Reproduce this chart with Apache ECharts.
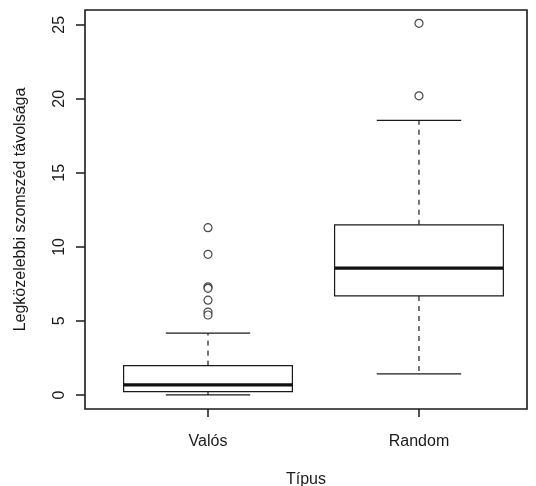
<!DOCTYPE html>
<html>
<head>
<meta charset="utf-8">
<script src="https://cdn.jsdelivr.net/npm/echarts@6/dist/echarts.min.js"></script>
<style>
	html, body { margin: 0; padding: 0; background: #fff; }
	#boxChart { width: 536px; height: 486px; }
</style>
</head>
<body>
<div id="boxChart"></div>
<script>
// group positions and names
var xPos = [1, 2];
var xNames = ['Valós', 'Random'];

// box statistics
var whiskerLow = [0.0, 1.42];
var q1 = [0.22, 6.69];
var median = [0.68, 8.56];
var q3 = [1.98, 11.49];
var whiskerHigh = [4.17, 18.54];

// outliers
var valosOutliers = [11.3, 9.5, 7.3, 7.2, 6.4, 5.6, 5.4];
var randomOutliers = [25.1, 20.2];

var yTicks = [0, 5, 10, 15, 20, 25];

var boxData = xPos.map(function (x, i) {
	return [x, whiskerLow[i], q1[i], median[i], q3[i], whiskerHigh[i]];
});
var outlierData = valosOutliers.map(function (v) { return [xPos[0], v]; })
	.concat(randomOutliers.map(function (v) { return [xPos[1], v]; }));

var ink = '#1a1a1a';
var font = '"Liberation Sans", Arial, sans-serif';

var myChart = echarts.init(document.getElementById('boxChart'));

var option = {
	animation: false,
	grid: {
		left: 85,
		right: 9,
		top: 10,
		bottom: 77,
		outerBoundsMode: 'none',
		containLabel: false,
		show: true,
		borderColor: ink,
		borderWidth: 1.6
	},
	xAxis: {
		type: 'value',
		min: 0.417,
		max: 2.512,
		name: 'Típus',
		nameLocation: 'middle',
		nameGap: 63,
		nameTextStyle: { color: ink, fontSize: 16, fontFamily: font },
		axisLine: { show: false, onZero: false },
		splitLine: { show: false },
		axisTick: {
			customValues: xPos,
			length: 8,
			lineStyle: { color: ink, width: 1.5 }
		},
		axisLabel: {
			customValues: xPos,
			margin: 25,
			color: ink,
			fontSize: 16,
			fontFamily: font,
			formatter: function (v) { return xNames[Math.round(v) - 1] || ''; }
		}
	},
	yAxis: {
		type: 'value',
		min: -0.95,
		max: 26.0,
		name: 'Legközelebbi szomszéd távolsága',
		nameLocation: 'middle',
		nameRotate: 90,
		nameGap: 56,
		nameTextStyle: { color: ink, fontSize: 16, fontFamily: font },
		axisLine: { show: false, onZero: false },
		splitLine: { show: false },
		axisTick: {
			customValues: yTicks,
			length: 9,
			lineStyle: { color: ink, width: 1.5 }
		},
		axisLabel: {
			customValues: yTicks,
			rotate: 90,
			margin: 17,
			color: ink,
			fontSize: 16,
			fontFamily: font
		}
	},
	series: [
		{
			type: 'custom',
			data: boxData,
			encode: { x: 0, y: [1, 2, 3, 4, 5] },
			renderItem: function (params, api) {
				var x = api.value(0);
				var lo = api.coord([x, api.value(1)]);
				var b1 = api.coord([x, api.value(2)]);
				var md = api.coord([x, api.value(3)]);
				var b3 = api.coord([x, api.value(4)]);
				var hi = api.coord([x, api.value(5)]);
				var bw = api.size([0.8, 0])[0];
				var cw = bw / 2;
				var cx = lo[0];
				var thin = { stroke: ink, lineWidth: 1.2 };
				var dashed = { stroke: ink, lineWidth: 1.2, lineDash: [5, 5] };
				return {
					type: 'group',
					children: [
						{ type: 'line', shape: { x1: cx, y1: b3[1], x2: cx, y2: hi[1] }, style: dashed },
						{ type: 'line', shape: { x1: cx, y1: b1[1], x2: cx, y2: lo[1] }, style: dashed },
						{ type: 'line', shape: { x1: cx - cw / 2, y1: hi[1], x2: cx + cw / 2, y2: hi[1] }, style: thin },
						{ type: 'line', shape: { x1: cx - cw / 2, y1: lo[1], x2: cx + cw / 2, y2: lo[1] }, style: thin },
						{
							type: 'rect',
							shape: { x: cx - bw / 2, y: b3[1], width: bw, height: b1[1] - b3[1] },
							style: { fill: '#fff', stroke: ink, lineWidth: 1.2 }
						},
						{ type: 'line', shape: { x1: cx - bw / 2, y1: md[1], x2: cx + bw / 2, y2: md[1] }, style: { stroke: '#111', lineWidth: 3.2 } }
					]
				};
			}
		},
		{
			type: 'scatter',
			data: outlierData,
			symbol: 'circle',
			symbolSize: 8,
			itemStyle: { color: '#fff', borderColor: ink, borderWidth: 1.2 }
		}
	]
};
myChart.setOption(option);
</script>
</body>
</html>
